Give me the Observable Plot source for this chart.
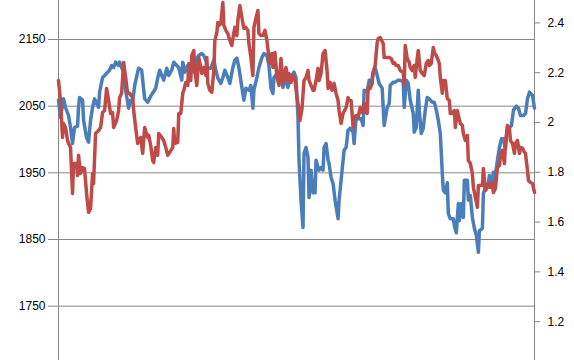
<!DOCTYPE html>
<html><head><meta charset="utf-8">
<script src="https://cdn.jsdelivr.net/npm/d3@7"></script>
<script src="https://cdn.jsdelivr.net/npm/@observablehq/plot@0.6"></script>
<style>html,body{margin:0;padding:0;background:#fff}</style>
</head><body><div id="chart"></div>
<script>
// Tick values
const leftTicks = [1750, 1850, 1950, 2050, 2150];
const rightTicks = [1.2, 1.4, 1.6, 1.8, 2.0, 2.2, 2.4];
// Visible value ranges of the two axes
const leftDomain = [1668.5, 2208.5];
const rightDomain = [1.044, 2.49];
const timeDomain = [0, 475];

// Series 1 (left axis): [time, value]
const blueSeries = [[0,2059],[2,2033],[5,2061],[7,2048],[10,2036],[12,2018],[14,1994],[16,2018],[19,2020],[20,2048],[21,2063],[24,2059],[25,2029],[28,2003],[30,1996],[32,2029],[34,2048],[36,2061],[38,2054],[40,2048],[41,2071],[44,2093],[46,2096],[49,2101],[51,2104],[53,2111],[55,2108],[57,2116],[60,2111],[61,2116],[63,2108],[65,2101],[67,2074],[70,2047],[72,2059],[74,2056],[76,2081],[79,2101],[80,2107],[83,2104],[84,2089],[86,2061],[89,2056],[92,2065],[95,2072],[97,2077],[99,2092],[101,2104],[103,2096],[105,2089],[108,2107],[110,2096],[113,2104],[115,2116],[118,2111],[120,2108],[123,2089],[124,2116],[126,2101],[129,2111],[131,2107],[134,2114],[135,2101],[138,2122],[140,2126],[143,2129],[145,2126],[148,2114],[149,2107],[152,2107],[155,2119],[157,2104],[159,2092],[162,2084],[164,2093],[166,2104],[169,2093],[171,2084],[174,2108],[176,2119],[178,2122],[180,2108],[183,2078],[185,2059],[187,2077],[190,2074],[192,2081],[194,2047],[195,2074],[198,2093],[200,2108],[203,2123],[205,2129],[208,2126],[210,2111],[212,2077],[214,2069],[215,2093],[218,2099],[220,2089],[222,2089],[224,2078],[226,2093],[229,2078],[231,2093],[233,2096],[235,2101],[237,2093],[239,2033],[240,1969],[242,1909],[244,1868],[245,1979],[247,1988],[249,1973],[250,1913],[252,1954],[254,1920],[256,1920],[257,1969],[259,1958],[260,1954],[262,1958],[264,1954],[265,1988],[267,1994],[269,1969],[270,1964],[272,1943],[274,1934],[276,1909],[279,1881],[280,1909],[282,1939],[285,1984],[287,1988],[289,2014],[291,2017],[294,2011],[295,1994],[297,2033],[299,2031],[302,2031],[304,2021],[305,2074],[308,2071],[310,2089],[312,2084],[314,2101],[316,2108],[318,2096],[320,2084],[323,2077],[325,2021],[328,2048],[330,2054],[331,2081],[334,2086],[336,2086],[339,2089],[341,2089],[344,2086],[345,2048],[347,2089],[349,2084],[351,2059],[354,2039],[355,2011],[357,2018],[359,2074],[360,2044],[362,2009],[364,2017],[366,2044],[368,2063],[370,2061],[373,2056],[375,2056],[377,2044],[379,2029],[381,2009],[383,1949],[384,1924],[386,1920],[388,1935],[389,1889],[391,1881],[394,1881],[395,1871],[397,1860],[399,1904],[400,1878],[402,1904],[404,1883],[405,1939],[408,1939],[409,1909],[411,1916],[413,1883],[415,1867],[417,1856],[419,1831],[420,1863],[423,1867],[424,1919],[426,1928],[429,1935],[430,1946],[432,1931],[434,1951],[435,1935],[438,1969],[440,1988],[442,2001],[444,2001],[446,1986],[448,2018],[450,2018],[452,2021],[454,2044],[457,2050],[459,2047],[461,2036],[464,2036],[466,2039],[468,2061],[470,2071],[473,2066],[475,2047]];

// Series 2 (right axis): [time, value]
const redSeries = [[0,2.169],[2,2.088],[4,1.940],[5,1.996],[7,1.980],[9,1.928],[10,1.916],[12,1.900],[14,1.715],[15,1.835],[18,1.835],[19,1.787],[20,1.868],[22,1.795],[24,1.819],[26,1.815],[28,1.715],[30,1.639],[32,1.655],[34,1.795],[35,1.755],[37,1.956],[40,1.968],[42,1.980],[44,2.040],[46,2.048],[48,2.137],[50,2.088],[52,2.036],[54,2.040],[55,1.980],[58,2.008],[60,2.048],[61,2.100],[63,2.117],[65,2.241],[67,2.181],[69,2.117],[71,2.117],[74,2.100],[75,2.048],[77,1.980],[79,1.916],[80,1.928],[82,1.940],[84,1.876],[86,1.980],[89,1.940],[90,1.948],[92,1.908],[94,1.847],[95,1.839],[97,1.900],[99,1.868],[100,1.956],[103,1.940],[105,1.928],[107,1.900],[109,1.868],[111,1.880],[114,1.900],[115,1.976],[116,1.916],[119,1.920],[120,2.036],[122,2.036],[124,2.117],[125,2.129],[127,2.161],[129,2.149],[130,2.237],[132,2.169],[133,2.269],[135,2.289],[136,2.209],[138,2.149],[140,2.261],[141,2.241],[143,2.197],[145,2.221],[147,2.189],[148,2.261],[149,2.157],[151,2.129],[153,2.121],[155,2.209],[156,2.329],[158,2.361],[159,2.402],[160,2.390],[162,2.398],[164,2.482],[165,2.390],[167,2.370],[169,2.357],[171,2.329],[173,2.309],[175,2.361],[176,2.382],[178,2.349],[179,2.410],[181,2.470],[183,2.422],[185,2.378],[187,2.382],[189,2.370],[190,2.317],[192,2.261],[194,2.189],[195,2.382],[197,2.418],[199,2.450],[200,2.357],[202,2.349],[204,2.349],[206,2.370],[208,2.329],[210,2.261],[211,2.237],[213,2.277],[214,2.221],[216,2.281],[218,2.181],[220,2.149],[222,2.257],[224,2.157],[225,2.181],[227,2.221],[229,2.169],[230,2.197],[232,2.161],[234,2.189],[236,2.169],[238,2.100],[240,2.048],[241,2.008],[243,2.056],[245,2.169],[247,2.181],[249,2.209],[250,2.169],[252,2.149],[254,2.129],[255,2.129],[257,2.169],[259,2.217],[260,2.169],[262,2.197],[264,2.277],[266,2.289],[268,2.209],[269,2.137],[271,2.161],[273,2.129],[275,2.157],[277,2.117],[279,2.088],[280,2.048],[282,1.996],[284,2.036],[287,2.060],[289,2.100],[290,2.088],[292,2.088],[294,1.980],[295,2.020],[297,2.028],[299,2.020],[301,2.060],[303,2.040],[305,2.076],[306,2.048],[308,2.036],[309,2.141],[311,2.137],[313,2.157],[314,2.201],[316,2.229],[318,2.321],[319,2.337],[321,2.341],[324,2.317],[325,2.261],[328,2.261],[330,2.261],[332,2.257],[334,2.237],[335,2.241],[337,2.229],[339,2.229],[341,2.209],[344,2.201],[345,2.149],[346,2.309],[348,2.257],[350,2.241],[351,2.221],[353,2.209],[355,2.229],[356,2.181],[358,2.257],[359,2.289],[361,2.209],[363,2.197],[365,2.189],[367,2.237],[369,2.249],[370,2.229],[372,2.237],[374,2.301],[375,2.281],[377,2.269],[379,2.249],[380,2.237],[381,2.181],[383,2.117],[384,2.169],[386,2.169],[388,2.096],[390,2.088],[391,2.036],[393,2.036],[395,2.048],[396,1.980],[398,2.048],[399,2.028],[401,1.996],[403,1.988],[404,1.956],[406,1.928],[408,1.948],[409,1.847],[411,1.835],[413,1.795],[414,1.739],[416,1.699],[418,1.659],[419,1.747],[421,1.747],[423,1.747],[424,1.815],[426,1.727],[428,1.739],[429,1.755],[431,1.739],[433,1.759],[434,1.719],[436,1.735],[438,1.819],[440,1.827],[441,1.868],[443,1.888],[445,1.835],[446,1.916],[448,1.988],[450,1.976],[451,1.928],[453,1.916],[455,1.876],[456,1.916],[458,1.928],[460,1.876],[461,1.900],[463,1.896],[465,1.880],[466,1.876],[468,1.807],[469,1.767],[471,1.759],[473,1.755],[475,1.719]];

// map secondary-axis values into the primary y scale
const toLeft = d3.scaleLinear().domain(rightDomain).range(leftDomain);
const gray = "#868686";

const chart = Plot.plot({
  width: 574,
  height: 360,
  marginTop: 0,
  marginBottom: 0,
  marginLeft: 58,
  marginRight: 40,
  x: {domain: timeDomain, axis: null},
  y: {domain: leftDomain, axis: null},
  style: {fontFamily: "'Liberation Sans', Arial, sans-serif", fontSize: "12px", color: "#000", background: "#fff", overflow: "visible"},
  marks: [
    Plot.gridY(leftTicks, {stroke: gray, strokeOpacity: 1}),
    Plot.axisY(leftTicks, {anchor: "left", tickSize: 10, tickPadding: 3, stroke: gray, strokeOpacity: 1, fill: "#000", tickFormat: d => String(d)}),
    Plot.axisY(rightTicks.map(toLeft), {anchor: "right", tickSize: 5, tickPadding: 8, stroke: gray, strokeOpacity: 1, fill: "#000", tickFormat: d => String(+toLeft.invert(d).toFixed(1))}),
    Plot.ruleX(timeDomain, {stroke: gray, strokeOpacity: 1}),
    Plot.line(blueSeries, {x: d => d[0], y: d => d[1], stroke: "#4a7ebb", strokeWidth: 3.5, strokeLinejoin: "round"}),
    Plot.line(redSeries, {x: d => d[0], y: d => toLeft(d[1]), stroke: "#be4b48", strokeWidth: 3.5, strokeLinejoin: "round"})
  ]
});
document.getElementById("chart").appendChild(chart);
</script>
</body></html>
